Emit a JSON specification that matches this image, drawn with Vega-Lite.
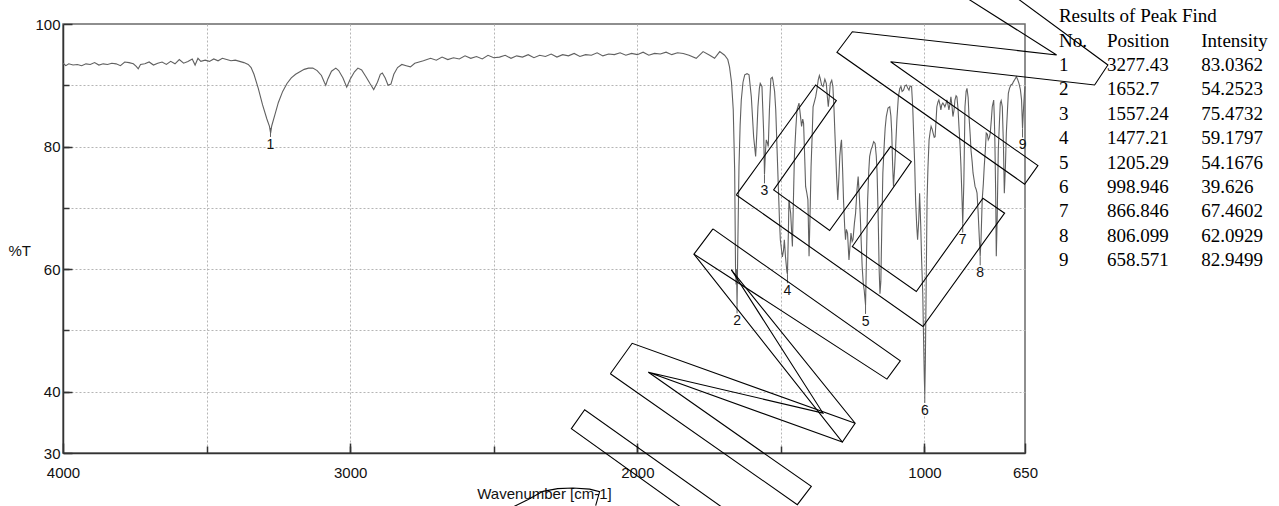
{
  "$schema": "https://vega.github.io/schema/vega-lite/v6.json",
  "width": 962,
  "height": 429,
  "autosize": "none",
  "padding": {"left": 63, "top": 24, "right": 254, "bottom": 53},
  "background": "white",
  "config": {
    "view": {"stroke": "#6a6a6a", "strokeWidth": 1.5},
    "font": "Liberation Sans",
    "axis": {"labelFont": "Liberation Sans", "titleFont": "Liberation Sans"}
  },
  "datasets": {
    "spectrum": [
      {"w":4000,"t":93.6},{"w":3990,"t":93.2},{"w":3980,"t":93.5},{"w":3965,"t":93.3},{"w":3950,"t":93.4},{"w":3935,"t":93.2},{"w":3920,"t":93.5},{"w":3905,"t":93.4},{"w":3890,"t":93.7},{"w":3875,"t":93.3},{"w":3860,"t":93.5},{"w":3845,"t":93.4},{"w":3830,"t":93.6},{"w":3815,"t":93.5},{"w":3800,"t":93.2},{"w":3785,"t":93.8},{"w":3770,"t":93.7},{"w":3755,"t":93.5},{"w":3745,"t":93.1},{"w":3738,"t":92.7},{"w":3730,"t":93.4},{"w":3715,"t":93.5},{"w":3700,"t":93.8},{"w":3685,"t":93.3},{"w":3670,"t":93.6},{"w":3655,"t":93.8},{"w":3640,"t":93.4},{"w":3625,"t":93.9},{"w":3610,"t":93.5},{"w":3595,"t":94.2},{"w":3580,"t":93.6},{"w":3565,"t":93.9},{"w":3550,"t":94.3},{"w":3540,"t":93.3},{"w":3530,"t":94.4},{"w":3520,"t":93.9},{"w":3505,"t":94.1},{"w":3490,"t":93.9},{"w":3475,"t":94.3},{"w":3460,"t":94.0},{"w":3445,"t":94.4},{"w":3430,"t":94.2},{"w":3415,"t":94.0},{"w":3400,"t":94.1},{"w":3385,"t":93.9},{"w":3370,"t":93.7},{"w":3355,"t":93.4},{"w":3345,"t":92.9},{"w":3335,"t":91.8},{"w":3320,"t":89.5},{"w":3305,"t":86.8},{"w":3290,"t":84.5},{"w":3281,"t":83.3},{"w":3277,"t":82.2},{"w":3273,"t":83.4},{"w":3262,"t":85.2},{"w":3250,"t":87.2},{"w":3235,"t":89.0},{"w":3220,"t":90.3},{"w":3205,"t":91.2},{"w":3190,"t":91.8},{"w":3175,"t":92.2},{"w":3160,"t":92.6},{"w":3145,"t":92.8},{"w":3130,"t":92.8},{"w":3115,"t":92.4},{"w":3100,"t":91.6},{"w":3090,"t":90.5},{"w":3085,"t":90.0},{"w":3078,"t":91.0},{"w":3065,"t":92.3},{"w":3050,"t":92.8},{"w":3040,"t":92.4},{"w":3025,"t":91.2},{"w":3012,"t":89.7},{"w":3000,"t":91.0},{"w":2985,"t":92.2},{"w":2973,"t":92.8},{"w":2960,"t":92.5},{"w":2945,"t":91.4},{"w":2930,"t":90.2},{"w":2918,"t":89.3},{"w":2905,"t":90.5},{"w":2895,"t":91.8},{"w":2888,"t":92.0},{"w":2878,"t":91.2},{"w":2868,"t":90.0},{"w":2858,"t":90.2},{"w":2848,"t":91.8},{"w":2835,"t":92.9},{"w":2820,"t":93.4},{"w":2805,"t":93.2},{"w":2790,"t":93.0},{"w":2775,"t":93.6},{"w":2760,"t":93.8},{"w":2745,"t":94.0},{"w":2720,"t":94.4},{"w":2700,"t":94.1},{"w":2680,"t":94.6},{"w":2660,"t":94.2},{"w":2640,"t":94.5},{"w":2620,"t":94.3},{"w":2600,"t":94.8},{"w":2580,"t":94.4},{"w":2560,"t":94.7},{"w":2540,"t":94.3},{"w":2520,"t":94.9},{"w":2500,"t":94.5},{"w":2480,"t":94.6},{"w":2460,"t":94.9},{"w":2440,"t":94.4},{"w":2420,"t":94.8},{"w":2400,"t":94.6},{"w":2380,"t":95.0},{"w":2360,"t":94.5},{"w":2340,"t":94.9},{"w":2320,"t":94.7},{"w":2300,"t":95.1},{"w":2280,"t":94.6},{"w":2260,"t":95.0},{"w":2240,"t":94.8},{"w":2220,"t":95.2},{"w":2200,"t":94.7},{"w":2180,"t":95.0},{"w":2160,"t":94.9},{"w":2140,"t":95.3},{"w":2120,"t":94.8},{"w":2100,"t":95.1},{"w":2080,"t":95.0},{"w":2060,"t":95.3},{"w":2040,"t":94.9},{"w":2020,"t":95.2},{"w":2000,"t":95.0},{"w":1980,"t":95.4},{"w":1960,"t":94.9},{"w":1940,"t":95.2},{"w":1920,"t":95.1},{"w":1900,"t":95.4},{"w":1880,"t":95.0},{"w":1860,"t":95.3},{"w":1840,"t":95.2},{"w":1820,"t":94.9},{"w":1795,"t":94.4},{"w":1771,"t":95.5},{"w":1748,"t":94.9},{"w":1731,"t":94.4},{"w":1713,"t":95.5},{"w":1696,"t":94.9},{"w":1685,"t":94.2},{"w":1679,"t":93.0},{"w":1672,"t":90.5},{"w":1666,"t":86.0},{"w":1661,"t":76.0},{"w":1658,"t":60.0},{"w":1656,"t":57.5},{"w":1654.5,"t":60.0},{"w":1652.7,"t":54.25},{"w":1650,"t":64.0},{"w":1646,"t":76.7},{"w":1642,"t":83.5},{"w":1638,"t":87.6},{"w":1632,"t":90.5},{"w":1626,"t":91.7},{"w":1618,"t":91.9},{"w":1611,"t":91.7},{"w":1603,"t":88.1},{"w":1595,"t":81.6},{"w":1588,"t":78.4},{"w":1584,"t":82.0},{"w":1580,"t":86.5},{"w":1575,"t":89.5},{"w":1572,"t":90.3},{"w":1566,"t":89.8},{"w":1560,"t":82.2},{"w":1557.2,"t":75.47},{"w":1554,"t":79.0},{"w":1551,"t":81.1},{"w":1547,"t":80.6},{"w":1544,"t":80.0},{"w":1540,"t":86.0},{"w":1535,"t":91.1},{"w":1530,"t":91.3},{"w":1528,"t":90.9},{"w":1522,"t":89.0},{"w":1518,"t":86.0},{"w":1513,"t":79.0},{"w":1509,"t":73.5},{"w":1505,"t":68.0},{"w":1502,"t":64.8},{"w":1495,"t":62.0},{"w":1491,"t":63.0},{"w":1488,"t":64.8},{"w":1484,"t":62.0},{"w":1479,"t":59.5},{"w":1477.2,"t":59.18},{"w":1474,"t":66.0},{"w":1472,"t":71.3},{"w":1469,"t":70.2},{"w":1466,"t":69.1},{"w":1460,"t":63.7},{"w":1457,"t":70.0},{"w":1453,"t":78.4},{"w":1448,"t":83.0},{"w":1444,"t":86.0},{"w":1437,"t":87.1},{"w":1432,"t":85.0},{"w":1428,"t":83.3},{"w":1424,"t":84.5},{"w":1421,"t":83.8},{"w":1417,"t":78.0},{"w":1414,"t":73.5},{"w":1410,"t":72.5},{"w":1406,"t":71.3},{"w":1402,"t":62.1},{"w":1398,"t":70.0},{"w":1395,"t":76.7},{"w":1391,"t":82.0},{"w":1388,"t":86.5},{"w":1379,"t":88.1},{"w":1374,"t":89.5},{"w":1370,"t":90.9},{"w":1366,"t":91.6},{"w":1363,"t":91.1},{"w":1358,"t":90.0},{"w":1353,"t":89.8},{"w":1347,"t":91.0},{"w":1342,"t":90.3},{"w":1338,"t":88.0},{"w":1335,"t":86.5},{"w":1331,"t":88.5},{"w":1328,"t":90.3},{"w":1323,"t":90.8},{"w":1319,"t":89.8},{"w":1315,"t":86.0},{"w":1312,"t":82.2},{"w":1306,"t":75.0},{"w":1302,"t":71.3},{"w":1298,"t":75.0},{"w":1295,"t":78.4},{"w":1291,"t":80.5},{"w":1289,"t":81.1},{"w":1285,"t":76.0},{"w":1282,"t":71.3},{"w":1278,"t":67.0},{"w":1275,"t":64.8},{"w":1272,"t":66.5},{"w":1268,"t":65.9},{"w":1263,"t":61.5},{"w":1259,"t":64.0},{"w":1256,"t":65.9},{"w":1252,"t":64.5},{"w":1249,"t":64.8},{"w":1244,"t":67.5},{"w":1240,"t":69.1},{"w":1235,"t":73.0},{"w":1231,"t":75.1},{"w":1227,"t":72.0},{"w":1224,"t":69.1},{"w":1220,"t":64.0},{"w":1217,"t":60.4},{"w":1213,"t":57.5},{"w":1210,"t":56.6},{"w":1207,"t":55.0},{"w":1205.3,"t":54.17},{"w":1202,"t":62.0},{"w":1198,"t":71.3},{"w":1194,"t":76.0},{"w":1191,"t":78.4},{"w":1186,"t":79.5},{"w":1182,"t":80.0},{"w":1177,"t":80.8},{"w":1172,"t":80.5},{"w":1168,"t":78.5},{"w":1165,"t":75.7},{"w":1161,"t":68.0},{"w":1158,"t":60.0},{"w":1155,"t":56.0},{"w":1152,"t":58.0},{"w":1149,"t":66.0},{"w":1145,"t":75.7},{"w":1140,"t":80.5},{"w":1137,"t":83.0},{"w":1133,"t":84.9},{"w":1127,"t":86.3},{"w":1121,"t":86.5},{"w":1117,"t":85.0},{"w":1114,"t":82.2},{"w":1111,"t":77.0},{"w":1108,"t":73.5},{"w":1104,"t":76.5},{"w":1101,"t":79.4},{"w":1096,"t":84.5},{"w":1091,"t":88.1},{"w":1086,"t":89.5},{"w":1082,"t":89.8},{"w":1078,"t":89.0},{"w":1073,"t":89.2},{"w":1068,"t":89.9},{"w":1063,"t":90.05},{"w":1058,"t":89.5},{"w":1054,"t":89.2},{"w":1050,"t":89.9},{"w":1045,"t":89.8},{"w":1041,"t":86.5},{"w":1038,"t":82.2},{"w":1034,"t":77.0},{"w":1031,"t":71.3},{"w":1027,"t":67.0},{"w":1024,"t":64.8},{"w":1020,"t":68.0},{"w":1017,"t":72.4},{"w":1013,"t":67.0},{"w":1010,"t":61.5},{"w":1006,"t":56.0},{"w":1003,"t":48.0},{"w":1000.5,"t":42.0},{"w":999,"t":39.63},{"w":997,"t":45.0},{"w":994,"t":58.0},{"w":991,"t":71.3},{"w":988,"t":76.5},{"w":984,"t":81.1},{"w":980,"t":82.5},{"w":977,"t":83.3},{"w":973,"t":82.8},{"w":970,"t":82.2},{"w":966,"t":81.5},{"w":963,"t":81.6},{"w":960,"t":84.0},{"w":957,"t":86.5},{"w":953,"t":87.3},{"w":950,"t":87.6},{"w":946,"t":86.8},{"w":943,"t":86.0},{"w":940,"t":86.8},{"w":936,"t":87.1},{"w":932,"t":86.8},{"w":929,"t":86.5},{"w":925,"t":87.0},{"w":922,"t":87.6},{"w":918,"t":86.8},{"w":915,"t":86.0},{"w":911,"t":87.0},{"w":908,"t":88.1},{"w":904,"t":86.5},{"w":901,"t":84.9},{"w":897,"t":86.0},{"w":894,"t":87.6},{"w":890,"t":88.3},{"w":887,"t":88.1},{"w":883,"t":86.0},{"w":880,"t":83.3},{"w":876,"t":80.0},{"w":873,"t":76.7},{"w":869,"t":71.0},{"w":866.8,"t":67.46},{"w":863,"t":74.0},{"w":859,"t":86.5},{"w":855,"t":89.0},{"w":852,"t":89.5},{"w":848,"t":88.0},{"w":845,"t":84.9},{"w":841,"t":82.0},{"w":838,"t":79.4},{"w":834,"t":77.5},{"w":831,"t":75.7},{"w":827,"t":74.5},{"w":824,"t":73.5},{"w":820,"t":73.0},{"w":817,"t":72.4},{"w":813,"t":69.1},{"w":809,"t":65.0},{"w":806.1,"t":62.09},{"w":803,"t":65.0},{"w":799,"t":71.3},{"w":795,"t":74.0},{"w":792,"t":76.7},{"w":788,"t":79.5},{"w":785,"t":82.2},{"w":781,"t":82.0},{"w":778,"t":81.1},{"w":774,"t":81.5},{"w":771,"t":82.2},{"w":767,"t":84.5},{"w":764,"t":86.5},{"w":759,"t":87.6},{"w":757,"t":85.0},{"w":755,"t":81.1},{"w":752,"t":72.0},{"w":750,"t":62.1},{"w":747,"t":68.0},{"w":743,"t":79.4},{"w":739,"t":84.0},{"w":736,"t":87.1},{"w":733,"t":87.5},{"w":729,"t":86.5},{"w":725,"t":80.0},{"w":722,"t":72.4},{"w":718,"t":77.0},{"w":715,"t":82.2},{"w":711,"t":86.0},{"w":708,"t":88.7},{"w":704,"t":89.5},{"w":699,"t":90.05},{"w":694,"t":90.2},{"w":690,"t":90.6},{"w":685,"t":91.0},{"w":680,"t":91.4},{"w":676,"t":91.0},{"w":671,"t":90.3},{"w":666,"t":89.3},{"w":662,"t":87.6},{"w":660,"t":85.0},{"w":658.6,"t":82.95},{"w":656,"t":85.5},{"w":652,"t":88.7},{"w":650,"t":89.8}
    ],
    "peaks": [
      {"no":1,"position":3277.43,"intensity":83.0362},
      {"no":2,"position":1652.7,"intensity":54.2523},
      {"no":3,"position":1557.24,"intensity":75.4732},
      {"no":4,"position":1477.21,"intensity":59.1797},
      {"no":5,"position":1205.29,"intensity":54.1676},
      {"no":6,"position":998.946,"intensity":39.626},
      {"no":7,"position":866.846,"intensity":67.4602},
      {"no":8,"position":806.099,"intensity":62.0929},
      {"no":9,"position":658.571,"intensity":82.9499}
    ],
    "overlay": [
      {"g":"s1","i":0,"w":869.3,"t":104.73},{"g":"s1","i":1,"w":539.9,"t":94.95},{"g":"s1","i":2,"w":1251.3,"t":98.74},{"g":"s1","i":3,"w":1304.9,"t":95.39},{"g":"s1","i":4,"w":651.3,"t":73.86},{"g":"s1","i":5,"w":605.0,"t":76.89},{"g":"s1","i":6,"w":1117.9,"t":93.85},{"g":"s1","i":7,"w":407.6,"t":90.05},{"g":"s1","i":8,"w":361.3,"t":93.31},{"g":"s1","i":9,"w":692.5,"t":104.73},
      {"g":"s2","i":0,"w":1655.2,"t":72.11},{"g":"s2","i":1,"w":1379.1,"t":90.05},{"g":"s2","i":2,"w":1307.0,"t":87.49},{"g":"s2","i":3,"w":1525.3,"t":72.93},{"g":"s2","i":4,"w":1330.3,"t":66.30},{"g":"s2","i":5,"w":1117.9,"t":79.99},{"g":"s2","i":6,"w":1045.9,"t":77.55},{"g":"s2","i":7,"w":1251.3,"t":63.69},{"g":"s2","i":8,"w":1028.5,"t":56.35},{"g":"s2","i":9,"w":796.5,"t":71.58},{"g":"s2","i":10,"w":721.0,"t":69.13},{"g":"s2","i":11,"w":1005.4,"t":50.64},{"g":"s2","i":12,"w":1655.2,"t":72.11},
      {"g":"s3","i":0,"w":1736.7,"t":66.57},{"g":"s3","i":1,"w":1084.2,"t":45.05},{"g":"s3","i":2,"w":1130.8,"t":42.06},{"g":"s3","i":3,"w":1802.8,"t":62.45},{"g":"s3","i":4,"w":1736.7,"t":66.57},
      {"g":"s3b","i":0,"w":1672.6,"t":59.89},{"g":"s3b","i":1,"w":1241.5,"t":34.86},{"g":"s3b","i":2,"w":1286.1,"t":31.79},{"g":"s3b","i":3,"w":1802.8,"t":62.45},
      {"g":"s4a","i":0,"w":2093.9,"t":42.93},{"g":"s4a","i":1,"w":2018.0,"t":47.90},{"g":"s4a","i":2,"w":1241.5,"t":34.86},
      {"g":"s4b","i":0,"w":1286.1,"t":31.79},{"g":"s4b","i":1,"w":1961.3,"t":43.17},{"g":"s4b","i":2,"w":1353.7,"t":36.52},{"g":"s4b","i":3,"w":1672.6,"t":59.89},
      {"g":"s4c","i":0,"w":2093.9,"t":42.93},{"g":"s4c","i":1,"w":1442.8,"t":21.57},{"g":"s4c","i":2,"w":1394.1,"t":24.55},{"g":"s4c","i":3,"w":1961.3,"t":43.17},
      {"g":"s5","i":0,"w":1845.7,"t":21.08},{"g":"s5","i":1,"w":2229.7,"t":33.96},{"g":"s5","i":2,"w":2183.4,"t":37.06},{"g":"s5","i":3,"w":1702.9,"t":21.08},
      {"g":"s6","i":0,"w":2437.6,"t":21.08},{"g":"s6","i":1,"w":2381.9,"t":22.38},{"g":"s6","i":2,"w":2328.6,"t":23.74},{"g":"s6","i":3,"w":2277.4,"t":24.18},{"g":"s6","i":4,"w":2224.2,"t":24.29},{"g":"s6","i":5,"w":2166.0,"t":24.10},{"g":"s6","i":6,"w":2131.2,"t":23.69},{"g":"s6","i":7,"w":2145.1,"t":21.41}
    ]
  },
  "layer": [
    {
      "layer": [
        {
          "data": {"name": "spectrum"},
          "mark": {"type": "line", "color": "#606060", "strokeWidth": 1.1, "clip": false},
          "encoding": {
            "x": {"field": "w", "type": "quantitative", "scale": {"domain": [4000, 650], "nice": false, "zero": false},
              "axis": {"orient": "bottom", "values": [4000, 3000, 2000, 1000, 650], "format": "d", "grid": false,
                "title": "Wavenumber [cm-1]", "titleFontSize": 15, "titleFontWeight": "normal", "titleColor": "#111",
                "titleY": 40, "titleBaseline": "middle",
                "labelFontSize": 15, "labelColor": "#111", "labelFlush": false, "labelOverlap": false, "labelBound": false,
                "labelPadding": 22, "tickSize": -10, "tickColor": "#333", "tickWidth": 1.5,
                "domainColor": "#333", "domainWidth": 1.5}},
            "y": {"field": "t", "type": "quantitative", "scale": {"domain": [30, 100], "nice": false, "zero": false},
              "axis": {"orient": "left", "values": [100, 80, 60, 40, 30], "grid": false,
                "title": "%T", "titleAngle": 0, "titleX": -55, "titleY": 226, "titleAlign": "left", "titleBaseline": "middle",
                "titleFontSize": 15, "titleFontWeight": "normal", "titleColor": "#111",
                "labelFontSize": 15, "labelColor": "#111", "labelFlush": false, "labelOverlap": false, "labelBound": false,
                "labelPadding": 12, "tickSize": -9, "tickColor": "#333", "tickWidth": 1.5,
                "domainColor": "#333", "domainWidth": 1.5}}
          }
        },
        {
          "data": {"name": "peaks"},
          "mark": {"type": "rule", "color": "#606060", "strokeWidth": 1, "y2Offset": 9},
          "encoding": {
            "x": {"field": "position", "type": "quantitative", "scale": {"domain": [4000, 650], "nice": false, "zero": false},
              "axis": {"orient": "bottom", "values": [3500, 3000, 2500, 2000, 1500, 1000], "grid": true, "gridDash": [2, 2], "gridColor": "#b5b5b5", "gridWidth": 1,
                "labels": false, "domain": false, "title": null, "tickSize": -7, "tickColor": "#333", "tickWidth": 1.5}},
            "y": {"field": "intensity", "type": "quantitative", "scale": {"domain": [30, 100], "nice": false, "zero": false},
              "axis": {"orient": "left", "values": [90, 80, 70, 60, 50, 40], "grid": true, "gridDash": [2, 2], "gridColor": "#b5b5b5", "gridWidth": 1,
                "labels": false, "domain": false, "title": null, "tickSize": -6, "tickColor": "#333", "tickWidth": 1.5}},
            "y2": {"field": "intensity"}
          }
        },
        {
          "data": {"name": "peaks"},
          "mark": {"type": "text", "font": "Liberation Sans", "fontSize": 14, "color": "#111", "baseline": "middle", "align": "center", "dy": 17},
          "encoding": {
            "x": {"field": "position", "type": "quantitative", "axis": null},
            "y": {"field": "intensity", "type": "quantitative", "axis": null},
            "text": {"field": "no", "type": "nominal"}
          }
        },
        {
          "data": {"name": "overlay"},
          "mark": {"type": "line", "color": "#000", "strokeWidth": 1.1, "clip": false},
          "encoding": {
            "x": {"field": "w", "type": "quantitative", "axis": null},
            "y": {"field": "t", "type": "quantitative", "axis": null},
            "detail": {"field": "g", "type": "nominal"},
            "order": {"field": "i", "type": "quantitative"}
          }
        }
      ],
      "resolve": {"axis": {"x": "independent", "y": "independent"}}
    },
    {
      "layer": [
        {
          "data": {"values": [{"k": "title"}]},
          "mark": {"type": "text", "font": "Liberation Serif", "fontSize": 19, "color": "#000", "align": "left", "baseline": "middle"},
          "encoding": {
            "x": {"datum": 531.9, "type": "quantitative", "axis": null},
            "y": {"datum": -1, "type": "quantitative", "axis": null, "scale": {"domain": [16.9, -0.68], "nice": false, "zero": false}},
            "text": {"value": "Results of Peak Find"}
          }
        },
        {
          "data": {"values": [{"h": "No."}]},
          "mark": {"type": "text", "font": "Liberation Serif", "fontSize": 19, "color": "#000", "align": "left", "baseline": "middle"},
          "encoding": {
            "x": {"datum": 531.9, "type": "quantitative", "axis": null},
            "y": {"datum": 0, "type": "quantitative", "axis": null},
            "text": {"field": "h", "type": "nominal"}
          }
        },
        {
          "data": {"values": [{"h": "Position"}]},
          "mark": {"type": "text", "font": "Liberation Serif", "fontSize": 19, "color": "#000", "align": "left", "baseline": "middle"},
          "encoding": {
            "x": {"datum": 364.8, "type": "quantitative", "axis": null},
            "y": {"datum": 0, "type": "quantitative", "axis": null},
            "text": {"field": "h", "type": "nominal"}
          }
        },
        {
          "data": {"values": [{"h": "Intensity"}]},
          "mark": {"type": "text", "font": "Liberation Serif", "fontSize": 19, "color": "#000", "align": "left", "baseline": "middle"},
          "encoding": {
            "x": {"datum": 36.1, "type": "quantitative", "axis": null},
            "y": {"datum": 0, "type": "quantitative", "axis": null},
            "text": {"field": "h", "type": "nominal"}
          }
        },
        {
          "data": {"name": "peaks"},
          "mark": {"type": "text", "font": "Liberation Serif", "fontSize": 19, "color": "#000", "align": "left", "baseline": "middle"},
          "encoding": {
            "x": {"datum": 531.9, "type": "quantitative", "axis": null},
            "y": {"field": "no", "type": "quantitative", "axis": null},
            "text": {"field": "no", "type": "nominal"}
          }
        },
        {
          "data": {"name": "peaks"},
          "mark": {"type": "text", "font": "Liberation Serif", "fontSize": 19, "color": "#000", "align": "left", "baseline": "middle"},
          "encoding": {
            "x": {"datum": 364.8, "type": "quantitative", "axis": null},
            "y": {"field": "no", "type": "quantitative", "axis": null},
            "text": {"field": "position", "type": "nominal"}
          }
        },
        {
          "data": {"name": "peaks"},
          "mark": {"type": "text", "font": "Liberation Serif", "fontSize": 19, "color": "#000", "align": "left", "baseline": "middle"},
          "encoding": {
            "x": {"datum": 36.1, "type": "quantitative", "axis": null},
            "y": {"field": "no", "type": "quantitative", "axis": null},
            "text": {"field": "intensity", "type": "nominal"}
          }
        }
      ]
    }
  ],
  "resolve": {"scale": {"y": "independent"}}
}
